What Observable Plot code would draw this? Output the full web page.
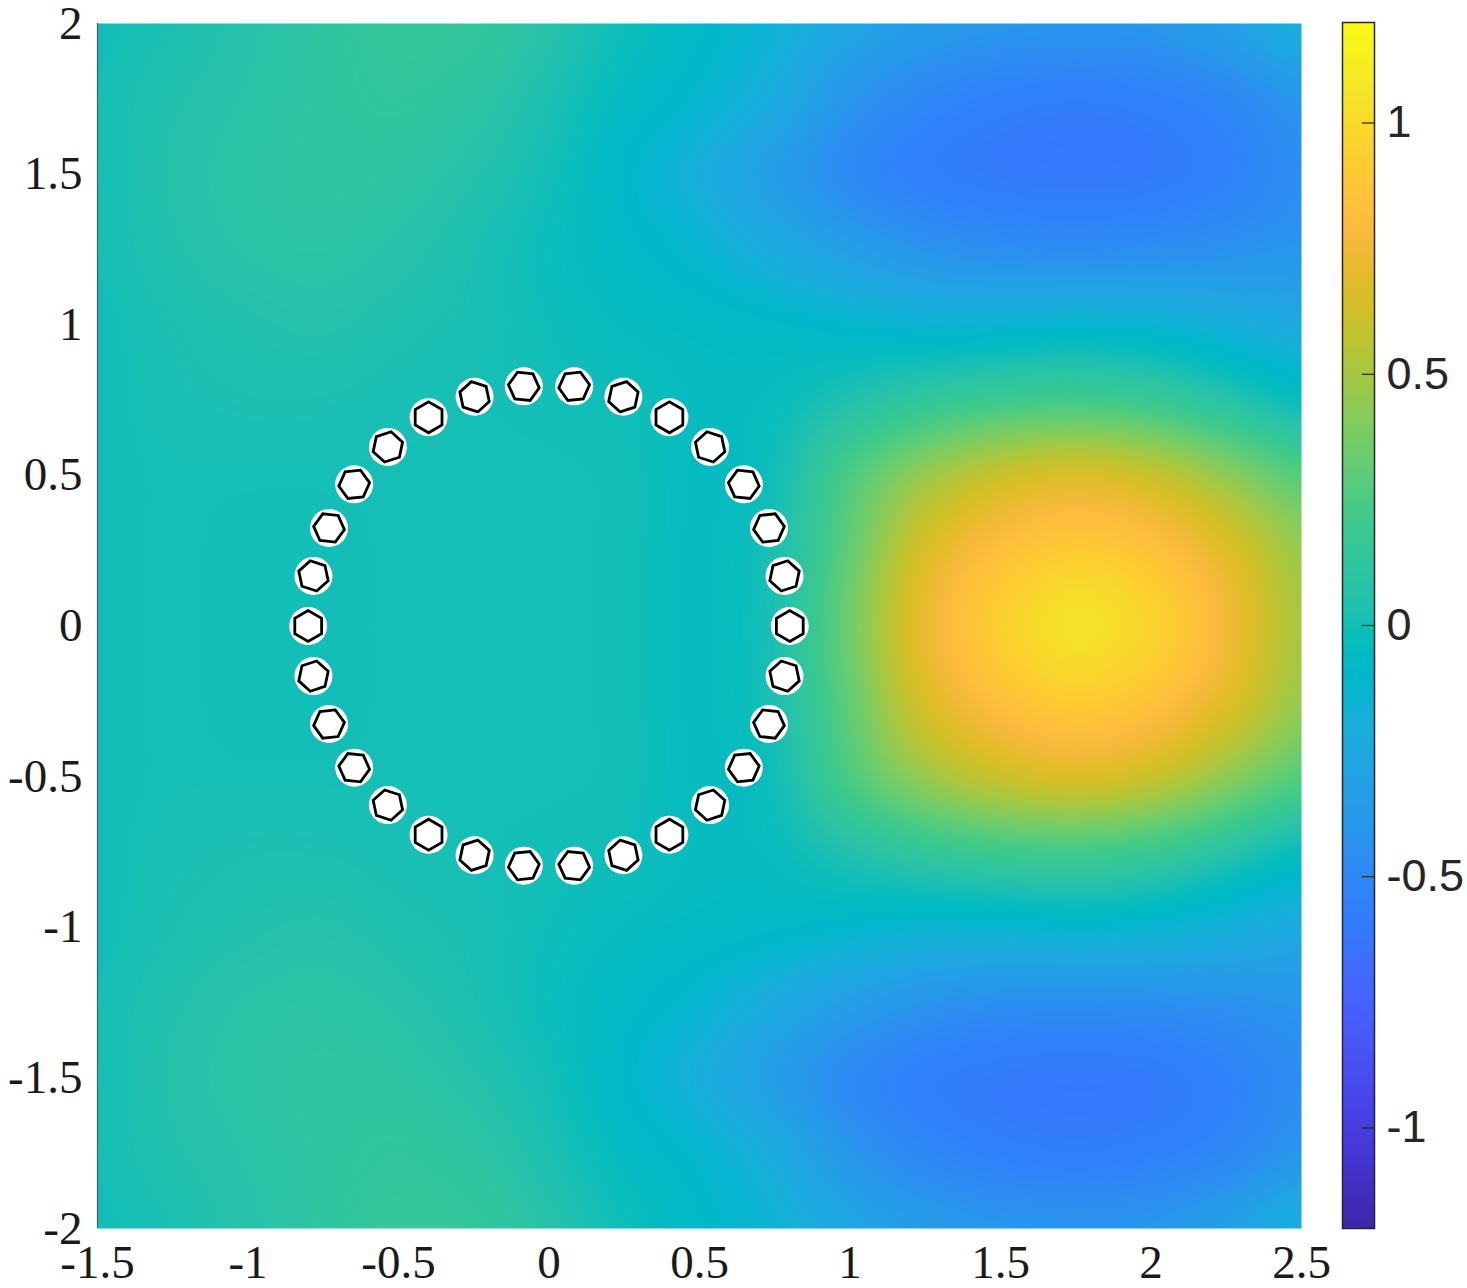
<!DOCTYPE html>
<html><head><meta charset="utf-8">
<script src="https://cdn.jsdelivr.net/npm/d3@7"></script>
<script src="https://cdn.jsdelivr.net/npm/@observablehq/plot@0.6"></script>
<style>
body{margin:0;background:#fff;}
#wrap{position:relative;width:1467px;height:1288px;overflow:hidden;}
#wrap svg{position:absolute;left:0;top:0;}
</style></head><body><div id="wrap"></div>
<script>
// grid of field values (rows top y=2 -> bottom y=-2)
const xGrid = [-1.5,-1.25,-1,-0.75,-0.5,-0.25,0,0.25,0.5,0.75,1,1.25,1.5,1.75,2,2.25,2.5];
const yGrid = [2,1.75,1.5,1.25,1,0.75,0.5,0.25,0,-0.25,-0.5,-0.75,-1,-1.25,-1.5,-1.75,-2];
const field = [
  [0.00,0.03,0.07,0.11,0.15,0.14,0.07,-0.01,-0.08,-0.16,-0.27,-0.36,-0.40,-0.41,-0.40,-0.32,-0.20],
  [0.01,0.05,0.08,0.11,0.13,0.10,0.03,-0.05,-0.12,-0.23,-0.40,-0.50,-0.55,-0.57,-0.55,-0.50,-0.40],
  [0.01,0.06,0.09,0.11,0.10,0.06,0.00,-0.09,-0.20,-0.34,-0.48,-0.56,-0.59,-0.60,-0.59,-0.54,-0.46],
  [0.01,0.05,0.08,0.09,0.07,0.03,-0.02,-0.07,-0.13,-0.23,-0.33,-0.41,-0.45,-0.46,-0.45,-0.43,-0.40],
  [0.00,0.03,0.05,0.06,0.04,0.02,-0.01,-0.04,-0.06,-0.08,-0.11,-0.14,-0.14,-0.12,-0.14,-0.19,-0.24],
  [0.00,0.02,0.03,0.03,0.02,0.01,0.00,-0.01,-0.04,-0.03,0.05,0.14,0.20,0.22,0.18,0.08,-0.03],
  [0.00,0.01,0.01,0.01,0.01,0.01,0.01,0.00,-0.04,0.00,0.25,0.46,0.60,0.66,0.60,0.44,0.28],
  [0.00,0.01,0.00,0.00,0.01,0.01,0.01,0.00,-0.04,0.03,0.32,0.65,0.83,0.91,0.85,0.68,0.46],
  [0.00,0.01,0.00,0.00,0.01,0.01,0.01,0.00,-0.04,0.03,0.36,0.72,0.93,1.04,0.96,0.76,0.50],
  [0.00,0.01,0.00,0.00,0.01,0.01,0.01,0.00,-0.04,0.03,0.32,0.65,0.83,0.91,0.85,0.68,0.46],
  [0.00,0.01,0.01,0.01,0.01,0.01,0.01,0.00,-0.04,0.00,0.25,0.46,0.60,0.66,0.60,0.44,0.28],
  [0.00,0.02,0.03,0.03,0.02,0.01,0.00,-0.01,-0.04,-0.03,0.05,0.14,0.20,0.22,0.18,0.08,-0.03],
  [0.00,0.03,0.05,0.06,0.04,0.02,-0.01,-0.04,-0.06,-0.08,-0.11,-0.14,-0.14,-0.12,-0.14,-0.19,-0.24],
  [0.01,0.05,0.08,0.09,0.07,0.03,-0.02,-0.07,-0.13,-0.23,-0.33,-0.41,-0.45,-0.46,-0.45,-0.43,-0.40],
  [0.01,0.06,0.09,0.11,0.10,0.06,0.00,-0.09,-0.20,-0.34,-0.48,-0.56,-0.59,-0.60,-0.59,-0.54,-0.46],
  [0.01,0.05,0.08,0.11,0.13,0.10,0.03,-0.05,-0.12,-0.23,-0.40,-0.50,-0.55,-0.57,-0.55,-0.50,-0.40],
  [0.00,0.03,0.07,0.11,0.15,0.14,0.07,-0.01,-0.08,-0.16,-0.27,-0.36,-0.40,-0.41,-0.40,-0.32,-0.20]
];
// scatterer centres (30 hexagons on a ring)
const scatX = [0.8,0.7825,0.7308,0.6472,0.5353,0.4,0.2472,0.0836,-0.0836,-0.2472,-0.4,-0.5353,-0.6472,-0.7308,-0.7825,-0.8,-0.7825,-0.7308,-0.6472,-0.5353,-0.4,-0.2472,-0.0836,0.0836,0.2472,0.4,0.5353,0.6472,0.7308,0.7825];
const scatY = [0,0.1663,0.3254,0.4702,0.5945,0.6928,0.7608,0.7956,0.7956,0.7608,0.6928,0.5945,0.4702,0.3254,0.1663,0,-0.1663,-0.3254,-0.4702,-0.5945,-0.6928,-0.7608,-0.7956,-0.7956,-0.7608,-0.6928,-0.5945,-0.4702,-0.3254,-0.1663];
const xTicks = [-1.5,-1,-0.5,0,0.5,1,1.5,2,2.5];
const yTicks = [-2,-1.5,-1,-0.5,0,0.5,1,1.5,2];
const colorTicks = [-1,-0.5,0,0.5,1];
const colorDomain = [-1.2,1.2];

// parula colormap
const parula = [
[0.2422,0.1504,0.6603],[0.2504,0.1650,0.7076],[0.2578,0.1818,0.7511],[0.2647,0.1978,0.7952],
[0.2706,0.2147,0.8364],[0.2751,0.2342,0.8710],[0.2783,0.2559,0.8991],[0.2803,0.2782,0.9221],
[0.2813,0.3006,0.9414],[0.2810,0.3228,0.9579],[0.2795,0.3447,0.9717],[0.2760,0.3667,0.9829],
[0.2699,0.3892,0.9906],[0.2602,0.4123,0.9952],[0.2440,0.4358,0.9988],[0.2206,0.4603,0.9973],
[0.1963,0.4847,0.9892],[0.1834,0.5074,0.9798],[0.1786,0.5289,0.9682],[0.1764,0.5499,0.9520],
[0.1687,0.5703,0.9359],[0.1540,0.5902,0.9218],[0.1460,0.6091,0.9079],[0.1380,0.6276,0.8973],
[0.1248,0.6459,0.8883],[0.1113,0.6635,0.8763],[0.0952,0.6798,0.8598],[0.0689,0.6948,0.8394],
[0.0297,0.7082,0.8163],[0.0036,0.7199,0.7909],[0.0067,0.7300,0.7635],[0.0433,0.7394,0.7350],
[0.0964,0.7500,0.7056],[0.1408,0.7584,0.6754],[0.1717,0.7670,0.6447],[0.1938,0.7758,0.6135],
[0.2161,0.7843,0.5819],[0.2470,0.7918,0.5497],[0.2906,0.7973,0.5173],[0.3406,0.8008,0.4844],
[0.3909,0.8029,0.4513],[0.4456,0.8024,0.4110],[0.5044,0.7993,0.3706],[0.5616,0.7942,0.3300],
[0.6174,0.7876,0.2880],[0.6720,0.7793,0.2450],[0.7242,0.7698,0.2060],[0.7738,0.7598,0.1770],
[0.8203,0.7498,0.1620],[0.8634,0.7406,0.1620],[0.9035,0.7330,0.1774],[0.9393,0.7288,0.2100],
[0.9728,0.7298,0.2394],[0.9956,0.7434,0.2371],[0.9970,0.7659,0.2199],[0.9952,0.7893,0.2028],
[0.9892,0.8136,0.1885],[0.9786,0.8386,0.1766],[0.9676,0.8639,0.1643],[0.9610,0.8890,0.1537],
[0.9597,0.9135,0.1423],[0.9628,0.9373,0.1265],[0.9691,0.9606,0.1064],[0.9769,0.9839,0.0805]
].map(([r,g,b]) => d3.rgb(r*255,g*255,b*255).toString());
const parulaInterp = d3.piecewise(d3.interpolateRgb, parula);

// smooth (bicubic) sampling of the read grid for the raster
function cr(p0,p1,p2,p3,t){
  return 0.5*((2*p1)+(-p0+p2)*t+(2*p0-5*p1+4*p2-p3)*t*t+(-p0+3*p1-3*p2+p3)*t*t*t);
}
function sample(x, y){
  const nx = xGrid.length, ny = yGrid.length;
  const dx = xGrid[1]-xGrid[0], dy = yGrid[0]-yGrid[1];
  let fx = Math.max(0, Math.min(nx-1, (x-xGrid[0])/dx));
  let fy = Math.max(0, Math.min(ny-1, (yGrid[0]-y)/dy));
  const i = Math.min(Math.floor(fx), nx-2), j = Math.min(Math.floor(fy), ny-2);
  const tx = fx-i, ty = fy-j;
  const g = (r,c) => field[Math.max(0,Math.min(ny-1,r))][Math.max(0,Math.min(nx-1,c))];
  const rows = [];
  for (let m=-1; m<=2; m++) rows.push(cr(g(j+m,i-1),g(j+m,i),g(j+m,i+1),g(j+m,i+2),tx));
  return cr(rows[0],rows[1],rows[2],rows[3],ty);
}

const scatterers = scatX.map((x,k) => ({x, y: scatY[k], rot: Math.atan2(scatY[k], x)*180/Math.PI}));
const colorScale = {type:"linear", domain: colorDomain, interpolate: parulaInterp, clamp: true};
const fmt = d => String(d);

const main = Plot.plot({
  width: 1467, height: 1288,
  marginLeft: 97, marginRight: 166, marginTop: 23, marginBottom: 60,
  x: {domain: [-1.5, 2.5]},
  y: {domain: [-2, 2]},
  color: colorScale,
  style: {fontFamily: "'Liberation Serif', 'DejaVu Serif', serif", fontSize: "47px", color: "#1a1a1a", background: "transparent"},
  marks: [
    Plot.raster({fill: sample, x1: -1.5, x2: 2.5, y1: -2, y2: 2, pixelSize: 1}),
    Plot.ruleX([-1.5], {stroke: "#555", strokeWidth: 1.2}),
    Plot.dot(scatterers, {x: "x", y: "y", r: 19, fill: "white", stroke: "none"}),
    Plot.dot(scatterers, {x: "x", y: "y", r: 13.4, symbol: "hexagon", rotate: "rot", fill: "white", stroke: "black", strokeWidth: 2.8}),
    Plot.axisX(xTicks, {tickSize: 0, tickPadding: 16, tickFormat: fmt, label: null}),
    Plot.axisY(yTicks, {tickSize: 0, tickPadding: 15, tickFormat: fmt, label: null})
  ]
});

const cbar = Plot.plot({
  width: 1467, height: 1288,
  marginLeft: 1342, marginRight: 93, marginTop: 22, marginBottom: 60,
  x: {domain: [0, 1], axis: null},
  y: {domain: colorDomain},
  color: colorScale,
  style: {fontFamily: "'Liberation Sans', Arial, sans-serif", fontSize: "45px", color: "#262626", background: "transparent"},
  marks: [
    Plot.raster({fill: (x, y) => y, x1: 0, x2: 1, y1: -1.2, y2: 1.2, pixelSize: 1}),
    Plot.ruleY(colorTicks, {x1: 0.62, x2: 1, stroke: "#262626", strokeWidth: 1.2}),
    Plot.frame({stroke: "#262626", strokeWidth: 1.5}),
    Plot.axisY(colorTicks, {anchor: "right", tickSize: 0, tickPadding: 12, tickFormat: fmt, label: null})
  ]
});

const wrap = document.getElementById("wrap");
wrap.appendChild(main);
wrap.appendChild(cbar);
</script>
</body></html>
